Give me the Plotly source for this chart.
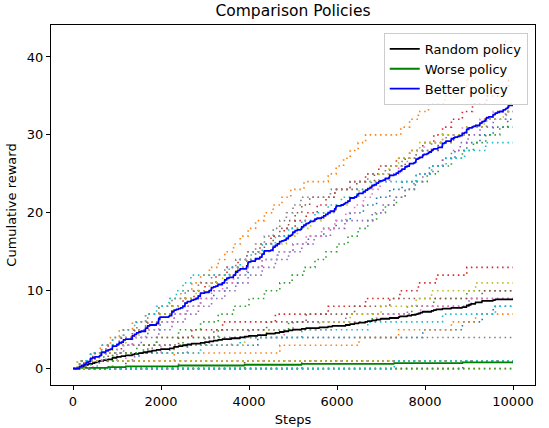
import numpy as np
import plotly.graph_objects as go

# step numbers at which each run got a reward of 1
random_runs = [
    [350, 1500, 2600, 4200, 7950, 8850, 9300, 9550],
    [900, 2300, 4700, 6500, 7400, 8600, 9150],
    [200, 700, 1600, 2500, 3300, 4900, 6800, 7700, 8200, 8950],
    [150, 500, 1100, 1900, 2700, 3400, 4600, 5800, 6650, 7430, 7850, 8260, 8950],
    [600, 1400, 2200, 3100, 4000, 5000, 6200, 7600, 9000],
    [300, 800, 1700, 2400, 3200, 4400, 5300, 6400, 7200, 9300],
    [450, 1200, 2000, 3600, 4800, 5900, 6900, 7900, 9050],
    [250, 1000, 1800, 3000],
    [100, 900, 2300, 3900, 4400, 5600, 6300, 7000, 7800, 8150, 9150],
    [550, 1350, 2900, 3800, 5200, 6700, 8400, 9600],
]

worse_runs = [
    [8860], [], [], [1200], [2400], [3900], [800], [5200], [100], [7300],
]

better_runs = [
    [300, 650, 1000, 1350, 1700, 1980, 2300, 2600, 2900, 3200, 3500, 3750, 3980,
     4300, 4650, 5000, 5350, 5700, 5980, 6300, 6600, 6900, 7200, 7480,
     7800, 8100, 8400, 8680, 8950, 9250, 9550, 9880],
    [150, 400, 620, 850, 1050, 1350, 1650, 1950, 2200, 2450, 2700, 2900, 3100,
     3300, 3450, 3650, 3800, 3980, 4150, 4350, 4550, 4750, 4950, 5250,
     5800, 5980, 6150, 6300, 6480, 6650, 7450, 7650, 7850, 8080, 8450,
     8750, 8950, 9150, 9300, 9450, 9600, 9780],
    [400, 900, 1450, 1900, 2400, 2900, 3300, 3650, 4000, 4350, 4700, 4980,
     5250, 5500, 5750, 6000, 6250, 6480, 6700, 6900, 7100, 7350, 7550, 7780,
     8050, 8300, 8600, 8850, 9100, 9380, 9700],
    [250, 500, 800, 1100, 1400, 1700, 1950, 2250, 2500, 2750, 3000, 3250, 3500,
     3750, 3950, 4250, 4500, 4800, 5050, 5300, 5550, 5750, 5950, 6300, 6650,
     6950, 7350, 7650, 7950, 8200, 8400, 8600, 8850, 9080, 9400, 9650, 9900],
    [350, 750, 1150, 1550, 1950, 2250, 2550, 2850, 3150, 3450, 3700, 3980,
     4300, 4600, 4900, 5200, 5480, 5850, 6180, 6800, 7050, 7300, 7550, 7750,
     7950, 8180, 8400, 8600, 8800, 8980, 9250, 9550, 9830],
    [200, 450, 750, 1050, 1350, 1650, 1950, 2250, 2550, 2850, 3150, 3450, 3700,
     3950, 4150, 4350, 4550, 4700, 4900, 5050, 5200, 5380, 5950, 6450,
     6850, 7200, 7550, 7950, 8300, 8650, 9000, 9300, 9600, 9900],
    [300, 650, 1000, 1350, 1650, 1950, 2300, 2600, 2900, 3150, 3400, 3650, 3950,
     4300, 4650, 5000, 5300, 5650, 5950, 6200, 6400, 6600, 6800, 6980,
     7200, 7400, 7600, 7800, 7980, 8400, 8850, 9250, 9550, 9900],
    [150, 400, 650, 900, 1150, 1450, 1700, 1950, 2250, 2550, 2850, 3150, 3450,
     3700, 3950, 4150, 4350, 4550, 4700, 4850, 5000, 5180, 5850,
     6300, 6700, 7100, 7480, 7800, 8150, 8480, 8950, 9400, 9850],
    [300, 600, 900, 1200, 1500, 1750, 1980, 2250, 2550, 2800, 3100, 3400, 3700,
     3980, 4250, 4550, 4850, 5100, 5400, 5700, 5980, 6250, 6500, 6750, 6950,
     7180, 7400, 7650, 7880, 8400, 8950, 9350, 9780],
    [150, 400, 650, 900, 1150, 1400, 1650, 1900, 2180, 2350, 2500, 2680,
     3550, 3800, 4050, 4300, 4600, 4900, 5200, 5500, 5800, 6100, 6450, 6780,
     7800, 8150, 8480, 8900, 9380],
]

n_steps = 10000
policy_names = ["Random policy", "Worse policy", "Better policy"]
mean_colors = ["black", "#008000", "#0000ff"]
run_colors = ['#1f77b4', '#ff7f0e', '#2ca02c', '#d62728', '#9467bd',
              '#8c564b', '#e377c2', '#7f7f7f', '#bcbd22', '#17becf']

FONT = "DejaVu Sans"
grid = np.arange(0, n_steps + 1, 10)

fig = go.Figure()

for runs, name, mcol in zip([random_runs, worse_runs, better_runs], policy_names, mean_colors):
    curves = []
    for i, ev in enumerate(runs):
        ev = sorted(ev)
        xs = [0] + ev + [n_steps]
        ys = list(range(len(ev) + 1)) + [len(ev)]
        fig.add_trace(go.Scatter(x=xs, y=ys, mode='lines', line_shape='hv',
                                 line=dict(color=run_colors[i % 10], width=1.6, dash='1.5px,3.7px'),
                                 showlegend=False, hoverinfo='skip'))
        curves.append(np.searchsorted(np.array(ev), grid, side='right'))
    mean = np.mean(curves, axis=0)
    fig.add_trace(go.Scatter(x=grid, y=mean, mode='lines', name=name,
                             line=dict(color=mcol, width=1.8)))

fig.update_layout(
    width=549, height=428,
    margin=dict(l=51, r=14, t=25, b=43),
    plot_bgcolor='white', paper_bgcolor='white',
    font=dict(family=FONT, size=13, color='black'),
    title=dict(text="Comparison Policies", x=0.5, xref='paper', y=0.976, yref='container',
               yanchor='middle', font=dict(size=15.5, family=FONT)),
    legend=dict(x=0.985, y=0.978, xanchor='right', yanchor='top',
                bgcolor='rgba(255,255,255,0.8)', bordercolor='#cccccc', borderwidth=1,
                font=dict(size=13, family=FONT), itemwidth=30),
)
fig.update_xaxes(range=[-500, 10500], tickvals=[0, 2000, 4000, 6000, 8000, 10000],
                 tickformat='d', showgrid=False, zeroline=False, automargin=False,
                 showline=True, linecolor='black', linewidth=1, mirror=True,
                 ticks='outside', ticklen=4, tickcolor='black', tickfont=dict(size=13),
                 title=dict(text="Steps", standoff=7, font=dict(size=13)))
fig.update_yaxes(range=[-2.1, 44.1], tickvals=[0, 10, 20, 30, 40],
                 showgrid=False, zeroline=False, automargin=False,
                 showline=True, linecolor='black', linewidth=1, mirror=True,
                 ticks='outside', ticklen=4, tickcolor='black', tickfont=dict(size=13),
                 title=dict(text="Cumulative reward", standoff=7, font=dict(size=13)))

# page body has a default 8px margin; drop it so the figure sits at the corner
fig.write_html("out.html", config={'displayModeBar': False},
               post_script="document.body.style.margin='0px';")
